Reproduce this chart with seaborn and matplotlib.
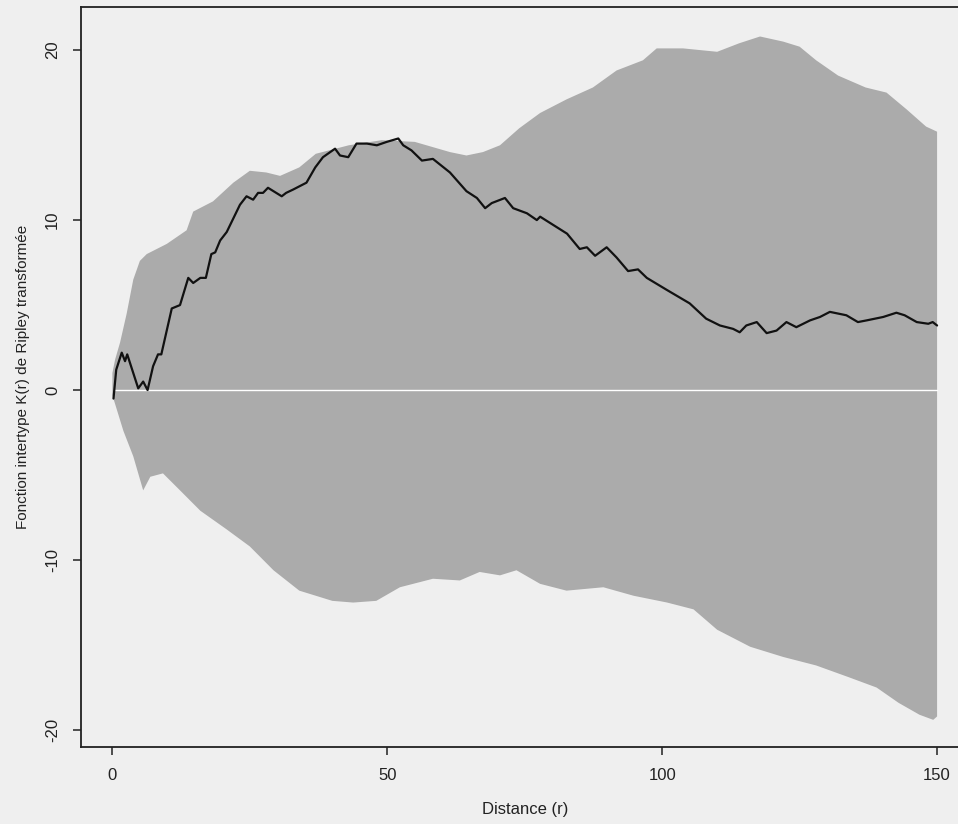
import numpy as np
import pandas as pd
import matplotlib
matplotlib.use("Agg")
import matplotlib.pyplot as plt
import seaborn as sns

# ---- data ----
env_hi_r = [0, 0.5, 1.4, 2.6, 3.8, 5, 6.25, 9.9, 13.5, 14.7, 18.3, 22, 25, 28, 30.5, 34, 37, 43, 49,
            55, 61.4, 64.4, 67.4, 70.5, 74, 77.8, 82.6, 87.4, 91.7, 96.5, 99, 103.8, 110, 114, 117.8,
            122, 125, 128, 132, 137, 140.8, 144.5, 148, 150]
env_hi = [1.0, 1.8, 2.8, 4.5, 6.5, 7.6, 8.0, 8.6, 9.4, 10.5, 11.1, 12.2, 12.9, 12.8, 12.6, 13.1, 13.9,
          14.4, 14.7, 14.6, 14.0, 13.8, 14.0, 14.4, 15.4, 16.3, 17.1, 17.8, 18.8, 19.4, 20.1, 20.1,
          19.9, 20.4, 20.8, 20.5, 20.2, 19.4, 18.5, 17.8, 17.5, 16.5, 15.5, 15.2]
env_lo_r = [0, 2, 3.8, 5.6, 6.9, 9.2, 12.3, 16, 20.8, 25, 29.3, 34, 40, 43.8, 48, 52.3, 58.3, 63.2,
            66.8, 70.5, 73.5, 77.8, 82.6, 89.3, 94.8, 100.9, 105.7, 110, 116, 122, 128, 134, 139,
            143, 146.8, 149.3, 150]
env_lo = [-0.3, -2.4, -3.9, -5.9, -5.1, -4.9, -5.9, -7.1, -8.2, -9.2, -10.6, -11.8, -12.4, -12.5,
          -12.4, -11.6, -11.1, -11.2, -10.7, -10.9, -10.6, -11.4, -11.8, -11.6, -12.1, -12.5, -12.9,
          -14.1, -15.1, -15.7, -16.2, -16.9, -17.5, -18.4, -19.1, -19.4, -19.2]

obs_r = [0.2, 0.7, 1.7, 2.3, 2.7, 4.7, 5.6, 6.4, 7.4, 8.3, 8.9, 10.8, 12.3, 13.8, 14.7, 16, 17, 18,
         18.7, 19.6, 20.8, 23.2, 24.4, 25.6, 26.5, 27.4, 28.3, 30.8, 31.6, 32.9, 35.3, 36.9, 38.3,
         40.5, 41.4, 42.9, 44.4, 46.3, 48.1, 49.9, 52, 52.9, 54.4, 56.3, 58.3, 61.4, 64.4, 66.3,
         67.8, 69, 71.4, 72.9, 75.4, 77.2, 77.8, 82.7, 85, 86.3, 87.8, 89.9, 91.7, 93.8, 95.6,
         97.2, 100.8, 105, 108, 110.5, 112.9, 114.1, 115.3, 117.2, 119, 120.8, 122.6, 124.4,
         126.9, 128.7, 130.5, 133.5, 135.6, 137.2, 140.2, 142.6, 144.1, 146.3, 148.4, 149.2, 150]
obs_k = [-0.5, 1.2, 2.2, 1.7, 2.1, 0.1, 0.5, 0.0, 1.4, 2.1, 2.1, 4.8, 5.0, 6.6, 6.3, 6.6, 6.6, 8.0,
         8.1, 8.8, 9.3, 10.9, 11.4, 11.2, 11.6, 11.6, 11.9, 11.4, 11.6, 11.8, 12.2, 13.1, 13.7,
         14.2, 13.8, 13.7, 14.5, 14.5, 14.4, 14.6, 14.8, 14.4, 14.1, 13.5, 13.6, 12.8, 11.7, 11.3,
         10.7, 11.0, 11.3, 10.7, 10.4, 10.0, 10.2, 9.2, 8.3, 8.4, 7.9, 8.4, 7.8, 7.0, 7.1,
         6.6, 5.9, 5.1, 4.2, 3.8, 3.6, 3.4, 3.8, 4.0, 3.35, 3.5, 4.0, 3.7,
         4.1, 4.3, 4.6, 4.4, 4.0, 4.1, 4.3, 4.55, 4.4, 4.0, 3.9, 4.0, 3.8]

theo_r = [0.5, 150]
theo_k = [0, 0]

x_ticks = [0, 50, 100, 150]
y_ticks = [-20, -10, 0, 10, 20]

# ---- style ----
sns.set_style("ticks")
plt.rcParams["font.family"] = ["Liberation Sans", "DejaVu Sans"]

bg = "#efefef"
fig = plt.figure(figsize=(9.58, 8.24), dpi=100, facecolor=bg)
ax = fig.add_axes([0.0846, 0.0934, 0.928, 0.898])
ax.set_facecolor(bg)

poly_r = np.concatenate([env_hi_r, env_lo_r[::-1]])
poly_k = np.concatenate([env_hi, env_lo[::-1]])
ax.fill(poly_r, poly_k, color="#ababab", lw=0, zorder=1)

df_theo = pd.DataFrame({"r": theo_r, "k": theo_k})
sns.lineplot(data=df_theo, x="r", y="k", ax=ax, color="white", lw=1.0, zorder=2)

df_obs = pd.DataFrame({"r": obs_r, "k": obs_k})
sns.lineplot(data=df_obs, x="r", y="k", ax=ax, color="#111111", lw=1.6, zorder=3,
             sort=False, estimator=None)

ax.set_xlim(-5.7, 156)
ax.set_ylim(-21.0, 22.53)
ax.set_xticks(x_ticks)
ax.set_yticks(y_ticks)
ax.set_xticklabels([str(v) for v in x_ticks], fontsize=12, color="#222222")
ax.set_yticklabels([str(v) for v in y_ticks], fontsize=12, color="#222222",
                   rotation=90, va="center")
ax.tick_params(axis="both", length=6, width=1.1, color="#222222", pad=9)

for s in ["left", "bottom", "top", "right"]:
    ax.spines[s].set_linewidth(1.3)
    ax.spines[s].set_color("#222222")
ax.spines["right"].set_visible(False)

ax.set_xlabel("Distance (r)", fontsize=12, color="#222222", labelpad=14)
ax.set_ylabel("Fonction intertype K(r) de Ripley transformée", fontsize=11,
              color="#222222", labelpad=11)

fig.savefig("out.png", dpi=100, facecolor=bg)
